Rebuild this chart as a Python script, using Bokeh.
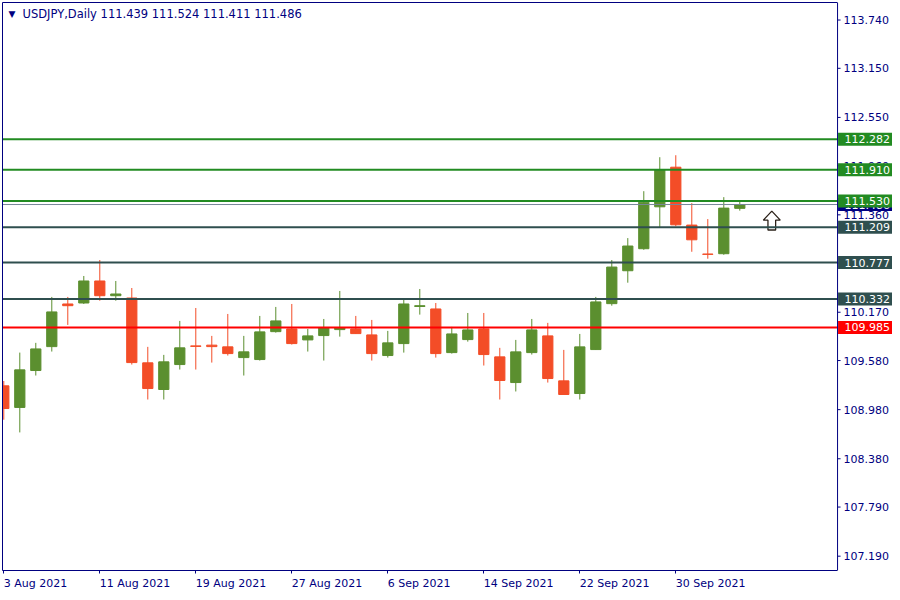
from bokeh.plotting import figure
from bokeh.models import (Label, FixedTicker, Range1d, ColumnDataSource, LinearAxis)
from bokeh.core.properties import value
from bokeh.embed import file_html
from bokeh.resources import INLINE

# ---------------- data ----------------
symbol_title = "USDJPY,Daily 111.439 111.524 111.411 111.486"

dates = ["3 Aug 2021", "4 Aug 2021", "5 Aug 2021", "6 Aug 2021", "9 Aug 2021", "10 Aug 2021",
         "11 Aug 2021", "12 Aug 2021", "13 Aug 2021", "16 Aug 2021", "17 Aug 2021", "18 Aug 2021",
         "19 Aug 2021", "20 Aug 2021", "23 Aug 2021", "24 Aug 2021", "25 Aug 2021", "26 Aug 2021",
         "27 Aug 2021", "30 Aug 2021", "31 Aug 2021", "1 Sep 2021", "2 Sep 2021", "3 Sep 2021",
         "6 Sep 2021", "7 Sep 2021", "8 Sep 2021", "9 Sep 2021", "10 Sep 2021", "13 Sep 2021",
         "14 Sep 2021", "15 Sep 2021", "16 Sep 2021", "17 Sep 2021", "20 Sep 2021", "21 Sep 2021",
         "22 Sep 2021", "23 Sep 2021", "24 Sep 2021", "27 Sep 2021", "28 Sep 2021", "29 Sep 2021",
         "30 Sep 2021", "1 Oct 2021", "4 Oct 2021", "5 Oct 2021", "6 Oct 2021"]

opens = [109.271, 109.007, 109.458, 109.750, 110.271, 110.283, 110.552, 110.372, 110.344, 109.552,
         109.226, 109.531, 109.759, 109.768, 109.747, 109.616, 109.592, 109.933, 109.966, 109.832,
         109.885, 109.958, 109.966, 109.893, 109.641, 109.787, 110.240, 110.210, 109.677, 109.836,
         109.966, 109.625, 109.311, 109.677, 109.881, 109.332, 109.177, 109.714, 110.275, 110.677,
         110.946, 111.458, 111.942, 111.235, 110.881, 110.885, 111.439]
highs = [109.330, 109.677, 109.796, 110.357, 110.357, 110.613, 110.808, 110.552, 110.466, 109.747,
         109.649, 110.064, 110.222, 109.881, 110.149, 109.881, 110.125, 110.235, 110.271, 109.966,
         110.088, 110.430, 110.125, 110.076, 109.942, 110.332, 110.454, 110.283, 109.991, 110.161,
         110.161, 109.735, 109.832, 110.088, 110.040, 109.710, 109.905, 110.357, 110.808, 111.076,
         111.649, 112.064, 112.088, 111.503, 111.308, 111.576, 111.524]
lows = [108.857, 108.702, 109.397, 109.690, 110.015, 110.271, 110.311, 110.311, 109.531, 109.104,
        109.104, 109.470, 109.470, 109.555, 109.641, 109.397, 109.580, 109.921, 109.775, 109.690,
        109.580, 109.872, 109.905, 109.580, 109.616, 109.677, 110.141, 109.616, 109.665, 109.811,
        109.519, 109.104, 109.202, 109.653, 109.311, 109.160, 109.104, 109.710, 110.250, 110.531,
        110.933, 111.202, 111.222, 110.909, 110.824, 110.872, 111.411]
closes = [108.994, 109.466, 109.722, 110.174, 110.250, 110.552, 110.372, 110.393, 109.555, 109.238,
          109.564, 109.735, 109.753, 109.750, 109.665, 109.686, 109.930, 110.064, 109.787, 109.881,
          109.982, 109.982, 109.909, 109.665, 109.796, 110.271, 110.250, 109.665, 109.905, 109.954,
          109.653, 109.336, 109.686, 109.954, 109.360, 109.165, 109.747, 110.296, 110.722, 110.979,
          111.515, 111.909, 111.238, 111.055, 110.877, 111.442, 111.486]

date_label_index = [0, 6, 12, 18, 24, 30, 36, 42]
price_ticks = [107.190, 107.790, 108.380, 108.980, 109.580, 110.170, 110.770, 111.360,
               111.960, 112.550, 113.150, 113.740]

level_prices = [112.282, 111.910, 111.530, 111.209, 110.777, 110.332, 109.985]
level_colors = ["#228B22", "#228B22", "#228B22", "#2F4F4F", "#2F4F4F", "#2F4F4F", "#FF0000"]
bid_price = 111.486

arrow_index = 48
arrow_price = 111.405

# ---------------- styling / geometry ----------------
UP = "#5B8F2F"
DOWN = "#F34D27"
NAVY = "#000080"
FONT = "DejaVu Sans"
FS = 11  # px

W, H = 892, 592
PX = 16.0                      # pixels per bar
X0 = -0.081                    # left edge of frame (bars)
XA = 52.11                     # price-axis position (bars)
X_END = X0 + (W - 2) / PX      # right edge of frame
Y1 = 113.954                   # price at the frame top
PPU = 82.0                     # pixels per price unit
FRAME_H = 569
Y0 = Y1 - FRAME_H / PPU

# DejaVu Sans advance widths (em) used to left-align date labels on their ticks
ADV = {"0": .636, "1": .636, "2": .636, "3": .636, "4": .636, "5": .636, "6": .636, "7": .636,
       "8": .636, "9": .636, " ": .318, "A": .684, "u": .634, "g": .635, "S": .635, "e": .615,
       "p": .635, "O": .787, "c": .550, "t": .392}


def text_w(s):
    return sum(ADV.get(ch, .62) for ch in s) * FS


n = len(opens)
idx = list(range(n))
colors = [UP if c >= o else DOWN for o, c in zip(opens, closes)]
src = ColumnDataSource(dict(
    x=idx, open=opens, close=closes, high=highs, low=lows,
    top=[max(o, c) for o, c in zip(opens, closes)],
    bottom=[min(o, c) for o, c in zip(opens, closes)],
    color=colors))

p = figure(width=W, height=H, output_backend="svg", toolbar_location=None,
           x_range=Range1d(X0, X_END), y_range=Range1d(Y0, Y1),
           min_border_left=2, min_border_top=2, min_border_right=0, min_border_bottom=0)
p.background_fill_color = "white"
p.border_fill_color = "white"
p.outline_line_color = None
p.xgrid.visible = False
p.ygrid.visible = False
p.yaxis.visible = False

# bottom (date) axis: labels on shifted major ticks, tick marks as minor ticks
label_pos = [i + text_w(dates[i]) / 2 / PX for i in date_label_index]
xa = p.xaxis[0]
xa.ticker = FixedTicker(ticks=label_pos, minor_ticks=date_label_index)
xa.major_label_overrides = {lp: dates[i] for lp, i in zip(label_pos, date_label_index)}
xa.bounds = (X0, XA)
xa.major_tick_in = 0
xa.major_tick_out = 0
xa.minor_tick_in = 0
xa.minor_tick_out = 3
xa.minor_tick_line_color = NAVY
xa.axis_line_color = NAVY
xa.major_label_text_color = NAVY
xa.major_label_text_font = FONT
xa.major_label_text_font_size = f"{FS}px"
xa.major_label_standoff = 3

# left and top frame edges
left_edge = LinearAxis(ticker=FixedTicker(ticks=[]), axis_line_color=NAVY,
                       major_tick_out=0, minor_tick_out=0, major_label_standoff=0,
                       major_label_text_font_size="0px")
p.add_layout(left_edge, "left")
top_edge = LinearAxis(ticker=FixedTicker(ticks=[]), axis_line_color=NAVY, bounds=(X0, XA),
                      major_tick_out=0, minor_tick_out=0, major_label_standoff=0,
                      major_label_text_font_size="0px")
p.add_layout(top_edge, "above")

# candles
p.segment(x0="x", y0="low", x1="x", y1="high", source=src, line_color="color", line_width=1)
p.vbar(x="x", width=0.64, top="top", bottom="bottom", source=src,
       fill_color="color", line_color="color", line_width=1)

# arrow (hollow up arrow)
hw, sw, hh, sh = 0.53, 0.24, 0.11, 0.12
ax = [arrow_index, arrow_index + hw, arrow_index + sw, arrow_index + sw,
      arrow_index - sw, arrow_index - sw, arrow_index - hw]
ay = [arrow_price, arrow_price - hh, arrow_price - hh, arrow_price - hh - sh,
      arrow_price - hh - sh, arrow_price - hh, arrow_price - hh]
p.patch(ax, ay, fill_color="white", line_color="#2a2018", line_width=1.3)

# horizontal levels (end at the price axis)
p.segment(x0=[X0], y0=[bid_price], x1=[XA], y1=[bid_price], line_color="#778899", line_width=1)
p.segment(x0=[X0] * len(level_prices), y0=level_prices, x1=[XA] * len(level_prices),
          y1=level_prices, line_color=level_colors, line_width=2)

# price axis: line, ticks, labels
p.segment(x0=[XA], y0=[Y0], x1=[XA], y1=[Y1], line_color=NAVY, line_width=1)
p.segment(x0=[XA] * len(price_ticks), y0=price_ticks, x1=[XA + 3 / PX] * len(price_ticks),
          y1=price_ticks, line_color=NAVY, line_width=1)
p.text(x=[XA] * len(price_ticks), y=price_ticks, text=[f"{t:.3f}" for t in price_ticks],
       x_offset=6, text_align="left", text_baseline="middle", text_color=NAVY,
       text_font=value(FONT), text_font_size=f"{FS}px")

# coloured price tags: bid tag first (partly hidden), then the level tags
box_cx = XA + 28.5 / PX
for prices, cols in (([bid_price], [NAVY]), (level_prices, level_colors)):
    p.rect(x=[box_cx] * len(prices), y=prices, width=56, height=13,
           width_units="screen", height_units="screen", fill_color=cols, line_color=None)
    p.text(x=[XA] * len(prices), y=prices, text=[f"{t:.3f}" for t in prices],
           x_offset=7, text_align="left", text_baseline="middle", text_color="white",
           text_font=value(FONT), text_font_size=f"{FS}px")

# title
p.add_layout(Label(x=X0, y=Y1, x_offset=6, y_offset=-11, text="\u25bc", text_color=NAVY,
                   text_font=FONT, text_font_size="9px", text_baseline="middle", text_align="left"))
p.add_layout(Label(x=X0, y=Y1, x_offset=20, y_offset=-11, text=symbol_title, text_color=NAVY,
                   text_font=FONT, text_font_size="11.5px", text_baseline="middle",
                   text_align="left"))

open("out.html", "w").write(file_html(p, INLINE))
